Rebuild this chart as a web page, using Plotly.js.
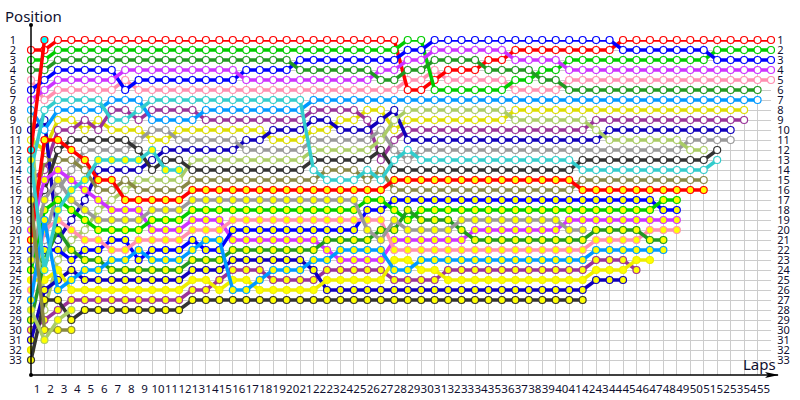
<!DOCTYPE html>
<html><head><meta charset="utf-8">
<script src="https://cdn.plot.ly/plotly-3.0.1.min.js"></script>
<style>html,body{margin:0;padding:0;background:#fff}#c{width:800px;height:400px}</style>
</head><body><div id="c"></div>
<script>
// Position per lap (index 0 = grid)
const redW=[2,2,1,1,1,1,1,1,1,1,1,1,1,1,1,1,1,1,1,1,1,1,1,1,1,1,1,1,6,6,5,4,4,4,3,3,2,2,2,2,2,2,2,2,1,1,1,1,1,1,1,1,1,1,1,1];
const limeW=[3,3,2,2,2,2,2,2,2,2,2,2,2,2,2,2,2,2,2,2,2,2,2,2,2,2,2,2,1,1,6,6,6,6,6,6,5,5,4,4,3,3,3,3,3,3,3,3,3,3,3,2,2,2,2,2];
const forestW=[4,4,3,3,3,3,3,3,3,3,3,3,3,3,3,3,3,3,3,3,4,4,4,4,4,4,5,5,4,4,3,3,3,3,4,4,4,4,5,5,6,6,6,6,6,6,6,6,6,6,6,6,6,6,6];
const blueW=[6,5,4,4,4,4,4,6,5,5,5,5,5,5,5,5,4,4,4,4,3,3,3,3,3,3,3,3,2,2,1,1,1,1,1,1,1,1,1,1,1,1,1,1,2,2,2,2,2,2,2,3,3,3,3,3];
const purpleW=[7,6,5,5,5,5,5,4,4,4,4,4,4,4,4,4,5,5,5,5,5,5,5,5,5,5,4,4,3,3,2,2,2,2,2,2,3,3,3,3,4,4,4,4,4,4,4,4,4,4,4,4,4,4,4,4];
const pinkW=[5,7,6,6,6,6,6,5,6,6,6,6,6,6,6,6,6,6,6,6,6,6,6,6,6,6,6,6,5,5,4,5,5,5,5,5,6,6,6,6,5,5,5,5,5,5,5,5,5,5,5,5,5,5,5,5];
const skyW=[8,10,8,8,8,8,7,7,7,9,9,9,9,8,8,8,8,8,8,8,8,7,7,7,7,7,7,7,7,7,7,7,7,7,7,7,7,7,7,7,7,7,7,7,7,7,7,7,7,7,7,7,7,7,7];
const tealW=[14,8,7,7,7,7,9,9,8,7,7,7,7,7,7,7,7,7,7,7,7,14,15,15,15,14,15,13,12,13,13,13,13,13,13,13,13,13,13,13,13,14,14,14,14,14,14,14,14,14,14,13];
const oliveW=[9,28,23,21,20,18,17,16,15,15,15,15,13,13,13,13,13,13,13,13,13,12,12,12,12,12,11,9,8,8,8,8,8,8,8,8,9,9,9,9,9,9,10,11,11,11,11,11,11,12,12];
const navyW=[10,9,21,19,17,14,14,14,14,13,12,12,12,12,12,12,11,11,10,10,10,9,9,10,10,10,9,8,11,11,11,11,11,11,11,11,11,11,11,11,11,11,11,10,10,10,10,10,10,10,10,10,10];
const yellowW=[11,12,9,9,10,9,10,10,10,11,11,10,10,10,10,10,10,10,11,11,11,10,10,9,9,8,8,10,9,9,9,9,9,9,9,9,8,8,8,8,8,8,8,8,8,8,8,8,8,8,8,8,8,8];
const grayW=[16,21,16,14,12,12,12,12,11,10,10,11,11,11,11,11,12,12,12,12,12,11,11,11,11,11,10,12,13,12,12,12,12,12,12,12,12,12,12,12,12,12,12,12,12,12,12,12,12,11,11,11,11];
const darkW=[18,16,12,11,11,11,11,11,12,14,13,13,14,14,14,14,14,14,14,14,14,13,13,13,13,13,12,14,14,14,14,14,14,14,14,14,14,14,14,14,14,13,13,13,13,13,13,13,13,13,13,12];
const khakiW=[19,13,13,13,14,16,16,15,16,16,16,16,15,15,15,15,15,15,15,15,15,15,14,14,14,15,14,16,16,16,16,16,16,16,16,16,16,16,16,16,16,15,15,15,15,15,15,15,15,15,15];
const dpurpleW=[15,14,10,10,9,10,8,8,9,8,8,8,8,9,9,9,9,9,9,9,9,8,8,8,8,9,13,11,10,10,10,10,10,10,10,10,10,10,10,10,10,10,9,9,9,9,9,9,9,9,9,9,9,9];
const redC=[12,1];
const tealY=[13,24,18,16,15,13,13,13,13,12,14,14];
const redY=[21,11,11,12,13,15,15,17,17,17,17,17,16,16,16,16,16,16,16,16,16,16,16,16,16,16,16,15,15,15,15,15,15,15,15,15,15,15,15,15,15,16,16,16,16,16,16,16,16,16,16];
const purpleY=[20,15,14,15,16,17,18,18,18,20,20,20,19,19,19,21,21,21,21,21,21,21,22,23,23,23,23,21,21,21,21,21,21,20,20,20,20,20,20,20,19,19,19,19,19,19,19,19,19];
const blueY=[22,22,22,23,22,22,21,21,23,22,22,22,21,22,22,20,20,20,20,20,20,20,20,20,20,18,18,17,17,17,17,17,17,17,17,17,17,17,17,17,17,17,17,17,17,17,17,18,18];
const grayY=[23,17,15,17,18,19,19,19,19,18,18,18,17,17,17,17,17,17,17,17,17,17,17,17,17,20,21,19,20,20,20,20,19,19,19,19,19,19,19,19,20,20];
const limeY=[24,18,17,18,19,20,20,20,20,19,19,19,18,18,18,18,18,18,18,18,18,18,18,18,18,17,17,18,19,18,18,18,18,18,18,18,18,18,18,18,18,18,18,18,18,18,18,17,17];
const byellowY=[25,25,24,26,26,26,26,26,26,26,26,26,25,25,26,25,25,26,26,26,26,26,25,25,25,25,25,23,23,24,24,25,25,25,25,25,25,25,25,25,25,25,24,24,24,23,23];
const pinkY=[26,20,19,20,21,21,22,22,21,21,21,21,20,20,20,19,19,19,19,19,19,19,19,19,19,19,19,22,22,22,22,22,22,22,22,22,22,22,22,22,22,22,21,21,21,21,20,20,20];
const skyY=[27,19,26,25,24,24,23,23,22,23,23,23,22,21,21,26,26,25,24,24,24,23,23,22,22,22,22,24,24,23,23,23,23,23,23,23,23,23,23,23,23,23,22,22,22,22,22,22];
const forestY=[29,23,20,22,23,23,24,24,24,24,24,24,23,23,23,22,22,22,22,22,22,22,21,21,21,21,20,20,18,19,19,19,20,21,21,21,21,21,21,21,21,21,20,20,20,20,21,21];
const dpurpleY=[30,29,28,27,27,27,27,27,27,27,27,27,26,26,25,24,24,24,25,25,25,25,24,24,24,24,24,25,25,25,25,24,24,24,24,24,24,24,24,24,24,24,23,23,23,24];
const navyY=[31,26,25,24,25,25,25,25,25,25,25,25,24,24,24,23,23,23,23,23,23,24,26,26,26,26,26,26,26,26,26,26,26,26,26,26,26,26,26,26,26,26,25,25,25];
const darkY=[33,27,27,29,28,28,28,28,28,28,28,28,27,27,27,27,27,27,27,27,27,27,27,27,27,27,27,27,27,27,27,27,27,27,27,27,27,27,27,27,27,27];
const khakiY=[17,30,30,30];
const oliveY=[28,31,29,28];
const yellowY=[32];

const RED='#ff0000',LIME='#00cc00',FOREST='#229922',BLUE='#0000ff',PURPLE='#cc33ff',PINK='#ff8fb0',
      SKY='#0099ff',TEAL='#33cccc',OLIVE='#aacc66',NAVY='#1100bb',YEL='#dddd00',GRAY='#999999',
      DARK='#333333',KHAKI='#888844',DPUR='#993399',BYEL='#eeee00';
const W='#ffffff',Y='#ffff00',C='#00ffff';
const seriesList=[
 [pinkW,PINK,W],[redW,RED,W],[limeW,LIME,W],[blueW,BLUE,W],[purpleW,PURPLE,W],[forestW,FOREST,W],
 [yellowW,YEL,W],[dpurpleW,DPUR,W],[navyW,NAVY,W],[grayW,GRAY,W],[oliveW,OLIVE,W],[khakiW,KHAKI,W],[darkW,DARK,W],
 [skyW,SKY,W],[tealW,TEAL,W],
 [yellowY,YEL,Y],[dpurpleY,DPUR,Y],[purpleY,PURPLE,Y],[navyY,NAVY,Y],[blueY,BLUE,Y],[byellowY,BYEL,Y],
 [pinkY,PINK,Y],[limeY,LIME,Y],[forestY,FOREST,Y],[redY,RED,Y],[redC,RED,C],
 [grayY,GRAY,Y],[skyY,SKY,Y],[tealY,TEAL,Y],[darkY,DARK,Y],[khakiY,KHAKI,Y],[oliveY,OLIVE,Y]
];
const traces=seriesList.map(s=>({
  x:s[0].map((_,i)=>i), y:s[0], type:'scatter', mode:'lines+markers', cliponaxis:false, hoverinfo:'skip',
  line:{color:s[1],width:3.5},
  marker:{size:7,color:s[2],line:{color:s[1],width:1.2}}
}));
const posVals=[1,2,3,4,5,6,7,8,9,10,11,12,13,14,15,16,17,18,19,20,21,22,23,24,25,26,27,28,29,30,31,32,33];
const lapVals=[0,1,2,3,4,5,6,7,8,9,10,11,12,13,14,15,16,17,18,19,20,21,22,23,24,25,26,27,28,29,30,31,32,33,34,35,36,37,38,39,40,41,42,43,44,45,46,47,48,49,50,51,52,53,54];
const lapText=lapVals.map(v=>String(v+1));
lapVals.push(55);lapText.push('');
traces.push({x:[0],y:[1],yaxis:'y2',type:'scatter',mode:'markers',marker:{opacity:0},hoverinfo:'skip'});
const F='"Noto Sans",sans-serif', INK='#101030';
const layout={
  width:800,height:400,showlegend:false,paper_bgcolor:'#fff',plot_bgcolor:'#fff',
  margin:{l:30.7,r:29.3,t:40,b:25,pad:0},
  xaxis:{range:[0,55],tickmode:'array',tickvals:lapVals,ticktext:lapText,tickangle:0,ticklabelshift:6,showgrid:true,gridcolor:'#cccccc',gridwidth:1,
         zeroline:false,showline:false,ticks:'outside',ticklen:3,tickcolor:'rgba(0,0,0,0)',tickfont:{family:F,size:11.5,color:INK}},
  yaxis:{range:[34.5,1],tickmode:'array',tickvals:posVals,ticktext:posVals.map(v=>v<10?v+'\u00a0\u00a0':String(v)),showgrid:true,gridcolor:'#cccccc',gridwidth:1,
         zeroline:false,showline:false,ticks:'outside',ticklen:6,tickcolor:'rgba(0,0,0,0)',tickfont:{family:F,size:11,color:INK}},
  yaxis2:{overlaying:'y',side:'right',range:[34.5,1],tickmode:'array',tickvals:posVals,ticktext:posVals.map(String),showgrid:false,
         zeroline:false,showline:false,ticks:'outside',ticklen:3,tickcolor:'rgba(0,0,0,0)',tickfont:{family:F,size:11,color:INK}},
  shapes:[
    {type:'line',xref:'paper',yref:'paper',x0:0,x1:0,y0:0,y1:1.0448,line:{color:'#000',width:1.5}},
    {type:'line',xref:'paper',yref:'paper',x0:0,x1:1.0095,y0:0,y1:0,line:{color:'#000',width:1.5}},
    {type:'circle',xref:'paper',yref:'paper',xsizemode:'pixel',ysizemode:'pixel',xanchor:0,yanchor:1.0448,x0:-2,x1:2,y0:-2,y1:2,fillcolor:'#000',line:{width:0}},
    {type:'circle',xref:'paper',yref:'paper',xsizemode:'pixel',ysizemode:'pixel',xanchor:0,yanchor:0,x0:-2,x1:2,y0:-2,y1:2,fillcolor:'#000',line:{width:0}},
    {type:'path',xref:'paper',yref:'paper',xsizemode:'pixel',ysizemode:'pixel',xanchor:1,yanchor:0,path:'M -6 -3 L 8 0 L -6 3 L -3 0 Z',fillcolor:'#000',line:{width:0}}
  ],
  annotations:[
    {xref:'paper',yref:'paper',x:-0.0375,y:1.036,xanchor:'left',yanchor:'bottom',showarrow:false,text:'Position',font:{family:F,size:15,color:INK}},
    {xref:'paper',yref:'paper',x:0.9595,y:-0.003,xanchor:'left',yanchor:'bottom',showarrow:false,text:'Laps',font:{family:F,size:15,color:INK}}
  ]
};
Plotly.newPlot('c',traces,layout,{displayModeBar:false,staticPlot:true});
</script></body></html>
